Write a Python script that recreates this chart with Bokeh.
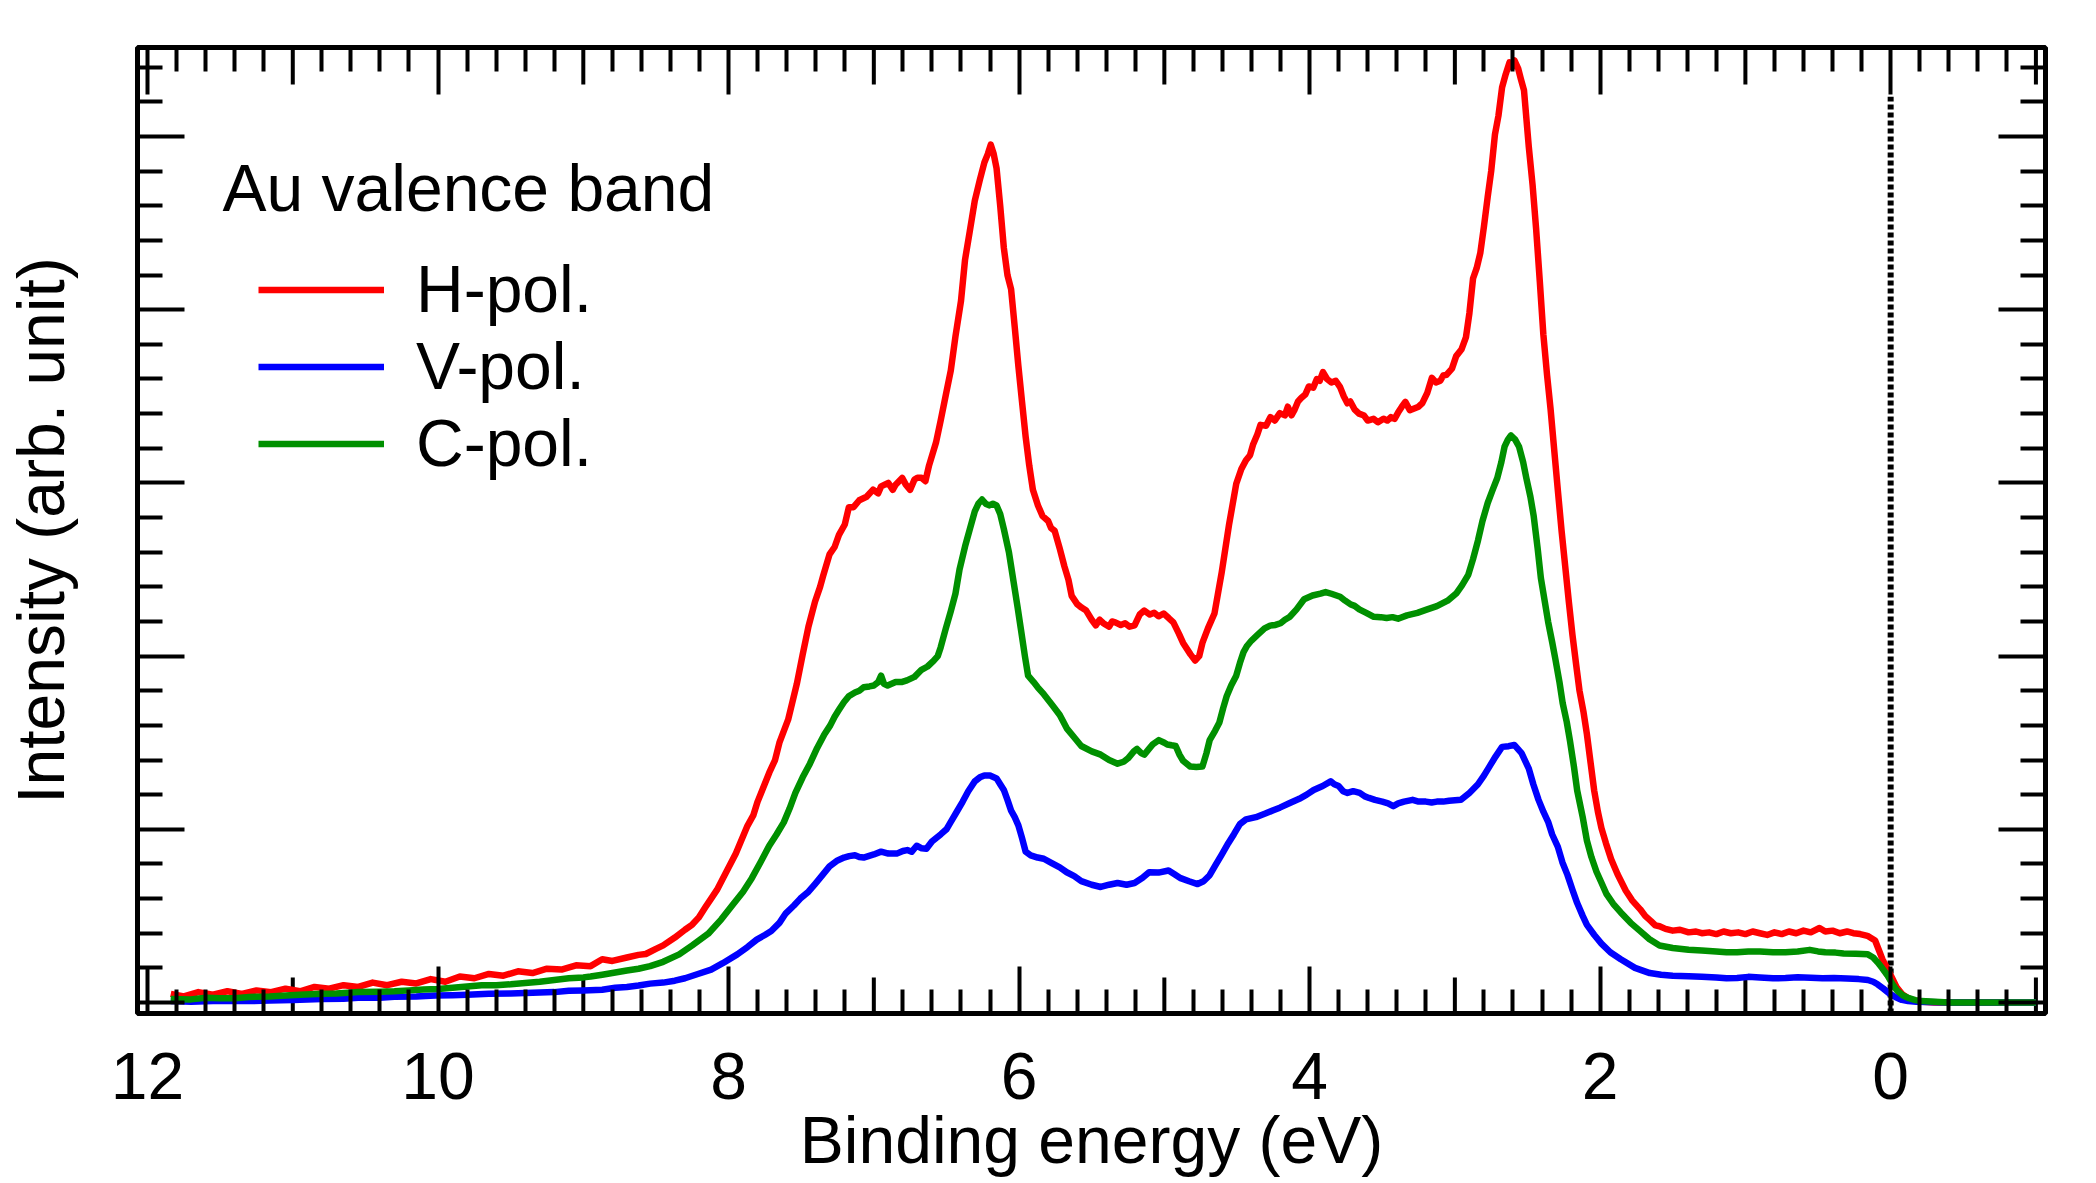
from bokeh.plotting import figure
from bokeh.models import Range1d, FixedTicker, LinearAxis, Legend, LegendItem, Label
from bokeh.embed import file_html
from bokeh.resources import INLINE

FONT = "Liberation Sans"

# ---------------- data ----------------
# H-polarisation: (binding energy eV, intensity arb.)
h_pol_points = [
    (11.84, 0.05), (11.75, 0.035), (11.65, 0.06), (11.55, 0.045), (11.45, 0.065), (11.35, 0.05),
    (11.25, 0.07), (11.15, 0.06), (11.05, 0.08), (10.95, 0.065), (10.85, 0.09), (10.75, 0.08),
    (10.65, 0.10), (10.55, 0.09), (10.45, 0.115), (10.35, 0.10), (10.25, 0.12), (10.15, 0.11),
    (10.05, 0.135), (9.95, 0.12), (9.85, 0.15), (9.75, 0.14), (9.65, 0.165), (9.55, 0.155),
    (9.45, 0.18), (9.35, 0.17), (9.25, 0.195), (9.15, 0.19), (9.05, 0.215), (8.95, 0.21),
    (8.87, 0.25), (8.8, 0.24), (8.7, 0.26), (8.62, 0.275), (8.57, 0.28), (8.5, 0.31),
    (8.45, 0.33), (8.37, 0.375), (8.3, 0.42), (8.25, 0.45), (8.206, 0.49), (8.16, 0.55),
    (8.12, 0.6), (8.08, 0.65), (8.04, 0.714), (7.95, 0.86), (7.87, 1.02), (7.83, 1.08),
    (7.8, 1.16), (7.72, 1.327), (7.68, 1.40), (7.65, 1.50), (7.59, 1.633), (7.53, 1.84),
    (7.49, 2.008), (7.45, 2.17), (7.405, 2.314), (7.37, 2.40), (7.35, 2.46), (7.305, 2.587),
    (7.27, 2.63), (7.24, 2.70), (7.2, 2.76), (7.172, 2.859), (7.14, 2.86), (7.1, 2.90),
    (7.05, 2.92), (7.005, 2.961), (6.97, 2.94), (6.95, 2.98), (6.9, 3.0), (6.87, 2.96),
    (6.85, 2.99), (6.805, 3.029), (6.78, 2.99), (6.75, 2.96), (6.72, 3.02), (6.7, 3.03),
    (6.672, 3.03), (6.645, 3.01), (6.62, 3.10), (6.572, 3.233), (6.54, 3.36), (6.505, 3.506),
    (6.47, 3.65), (6.438, 3.846), (6.4, 4.05), (6.372, 4.289), (6.34, 4.45), (6.305, 4.629),
    (6.27, 4.75), (6.239, 4.85), (6.215, 4.90), (6.195, 4.953), (6.175, 4.90), (6.155, 4.816),
    (6.13, 4.6), (6.105, 4.357), (6.08, 4.20), (6.055, 4.118), (6.03, 3.9), (6.005, 3.676),
    (5.98, 3.47), (5.955, 3.267), (5.93, 3.1), (5.905, 2.961), (5.87, 2.87), (5.838, 2.808),
    (5.8, 2.78), (5.78, 2.74), (5.755, 2.723), (5.72, 2.62), (5.688, 2.518), (5.66, 2.44),
    (5.638, 2.348), (5.6, 2.3), (5.57, 2.28), (5.538, 2.263), (5.5, 2.21), (5.472, 2.178),
    (5.445, 2.21), (5.42, 2.19), (5.38, 2.17), (5.36, 2.20), (5.338, 2.195), (5.3, 2.18),
    (5.27, 2.19), (5.24, 2.17), (5.205, 2.178), (5.17, 2.24), (5.138, 2.263), (5.1, 2.24),
    (5.07, 2.25), (5.04, 2.23), (5.005, 2.246), (4.97, 2.22), (4.938, 2.195), (4.9, 2.13),
    (4.871, 2.076), (4.82, 2.01), (4.788, 1.975), (4.76, 2.0), (4.738, 2.076), (4.7, 2.16),
    (4.655, 2.246), (4.605, 2.484), (4.555, 2.757), (4.505, 2.995), (4.47, 3.08), (4.438, 3.131),
    (4.41, 3.16), (4.39, 3.22), (4.36, 3.28), (4.338, 3.335), (4.3, 3.33), (4.27, 3.38),
    (4.24, 3.36), (4.205, 3.403), (4.17, 3.39), (4.15, 3.44), (4.125, 3.39), (4.105, 3.42),
    (4.08, 3.47), (4.058, 3.49), (4.03, 3.51), (4.005, 3.557), (3.975, 3.55), (3.95, 3.60),
    (3.93, 3.59), (3.908, 3.64), (3.88, 3.60), (3.85, 3.58), (3.82, 3.59), (3.79, 3.553),
    (3.765, 3.50), (3.74, 3.46), (3.72, 3.47), (3.691, 3.425), (3.66, 3.40), (3.625, 3.389),
    (3.6, 3.36), (3.56, 3.37), (3.53, 3.35), (3.491, 3.371), (3.465, 3.36), (3.44, 3.38),
    (3.415, 3.37), (3.391, 3.406), (3.365, 3.44), (3.341, 3.468), (3.31, 3.42), (3.28, 3.43),
    (3.25, 3.44), (3.224, 3.461), (3.19, 3.52), (3.158, 3.607), (3.13, 3.58), (3.1, 3.59),
    (3.08, 3.62), (3.058, 3.624), (3.02, 3.66), (2.991, 3.732), (2.955, 3.77), (2.924, 3.84),
    (2.9, 3.98), (2.875, 4.18), (2.85, 4.24), (2.825, 4.327), (2.8, 4.48), (2.774, 4.652),
    (2.75, 4.80), (2.724, 5.012), (2.7, 5.12), (2.675, 5.284), (2.65, 5.36), (2.624, 5.428),
    (2.605, 5.40), (2.59, 5.44), (2.564, 5.392), (2.545, 5.33), (2.524, 5.266), (2.491, 4.94),
    (2.465, 4.72), (2.441, 4.471), (2.415, 4.16), (2.391, 3.858), (2.365, 3.62), (2.341, 3.425),
    (2.315, 3.18), (2.291, 2.956), (2.265, 2.72), (2.241, 2.523), (2.215, 2.31), (2.191, 2.126),
    (2.165, 1.95), (2.142, 1.8), (2.115, 1.68), (2.091, 1.549), (2.065, 1.38), (2.041, 1.224),
    (2.015, 1.10), (1.991, 1.007), (1.96, 0.92), (1.924, 0.827), (1.88, 0.74), (1.824, 0.647),
    (1.78, 0.59), (1.724, 0.538), (1.69, 0.50), (1.65, 0.47), (1.62, 0.445), (1.591, 0.44),
    (1.55, 0.425), (1.5, 0.415), (1.45, 0.42), (1.391, 0.405), (1.34, 0.41), (1.3, 0.40),
    (1.25, 0.405), (1.2, 0.395), (1.15, 0.41), (1.1, 0.40), (1.05, 0.405), (1.0, 0.395),
    (0.95, 0.41), (0.9, 0.40), (0.85, 0.39), (0.8, 0.405), (0.75, 0.395), (0.7, 0.41),
    (0.65, 0.40), (0.6, 0.415), (0.55, 0.405), (0.49, 0.43), (0.45, 0.41), (0.4, 0.415),
    (0.35, 0.40), (0.3, 0.41), (0.257, 0.40), (0.21, 0.395), (0.16, 0.385), (0.107, 0.358),
    (0.08, 0.30), (0.057, 0.25), (0.02, 0.19), (-0.01, 0.141), (-0.04, 0.09), (-0.077, 0.05),
    (-0.12, 0.025), (-0.16, 0.012), (-0.22, 0.004), (-0.3, 0.0), (-0.5, 0.0), (-0.7, 0.0),
    (-1.0, 0.0),
]

# V-polarisation
v_pol_points = [
    (11.84, 0.008), (11.7, 0.004), (11.5, 0.01), (11.3, 0.008), (11.16, 0.012), (11.0, 0.015),
    (10.8, 0.02), (10.65, 0.022), (10.55, 0.027), (10.4, 0.028), (10.3, 0.033), (10.15, 0.035),
    (10.02, 0.04), (9.9, 0.042), (9.8, 0.045), (9.65, 0.05), (9.5, 0.052), (9.4, 0.055),
    (9.2, 0.06), (9.1, 0.068), (9.0, 0.07), (8.87, 0.074), (8.78, 0.085), (8.7, 0.09),
    (8.62, 0.098), (8.54, 0.109), (8.45, 0.115), (8.37, 0.126), (8.3, 0.14), (8.206, 0.166),
    (8.12, 0.19), (8.04, 0.227), (7.94, 0.278), (7.87, 0.32), (7.806, 0.363), (7.75, 0.39),
    (7.706, 0.413), (7.65, 0.46), (7.606, 0.515), (7.55, 0.56), (7.506, 0.6), (7.45, 0.64),
    (7.405, 0.684), (7.35, 0.74), (7.305, 0.786), (7.25, 0.82), (7.205, 0.837), (7.17, 0.845),
    (7.13, 0.85), (7.1, 0.84), (7.07, 0.837), (7.0, 0.855), (6.95, 0.871), (6.9, 0.86),
    (6.838, 0.861), (6.8, 0.875), (6.77, 0.88), (6.74, 0.87), (6.705, 0.905), (6.67, 0.89),
    (6.638, 0.888), (6.6, 0.93), (6.538, 0.972), (6.5, 1.0), (6.472, 1.04), (6.43, 1.10),
    (6.389, 1.159), (6.35, 1.22), (6.305, 1.277), (6.27, 1.30), (6.239, 1.311), (6.2, 1.31),
    (6.155, 1.294), (6.13, 1.26), (6.105, 1.227), (6.08, 1.17), (6.055, 1.108), (6.03, 1.07),
    (6.005, 1.023), (5.98, 0.95), (5.955, 0.871), (5.92, 0.85), (5.872, 0.837), (5.83, 0.83),
    (5.772, 0.803), (5.72, 0.78), (5.672, 0.752), (5.62, 0.73), (5.572, 0.701), (5.5, 0.68),
    (5.438, 0.667), (5.38, 0.68), (5.322, 0.69), (5.26, 0.68), (5.205, 0.69), (5.15, 0.72),
    (5.105, 0.752), (5.04, 0.75), (4.971, 0.762), (4.93, 0.74), (4.888, 0.718), (4.83, 0.70),
    (4.771, 0.684), (4.73, 0.70), (4.688, 0.735), (4.65, 0.79), (4.605, 0.854), (4.56, 0.92),
    (4.521, 0.972), (4.48, 1.03), (4.438, 1.057), (4.37, 1.07), (4.305, 1.091), (4.25, 1.11),
    (4.205, 1.125), (4.14, 1.15), (4.071, 1.176), (4.02, 1.20), (3.972, 1.227), (3.91, 1.25),
    (3.855, 1.277), (3.83, 1.26), (3.8, 1.25), (3.77, 1.22), (3.739, 1.21), (3.7, 1.22),
    (3.655, 1.21), (3.62, 1.19), (3.591, 1.181), (3.55, 1.17), (3.5, 1.16), (3.46, 1.15),
    (3.424, 1.134), (3.39, 1.15), (3.35, 1.16), (3.291, 1.17), (3.25, 1.16), (3.2, 1.16),
    (3.16, 1.155), (3.124, 1.16), (3.08, 1.16), (3.04, 1.165), (2.958, 1.17), (2.9, 1.21),
    (2.841, 1.26), (2.8, 1.31), (2.758, 1.368), (2.72, 1.42), (2.675, 1.476), (2.63, 1.48),
    (2.591, 1.487), (2.541, 1.44), (2.491, 1.35), (2.46, 1.26), (2.424, 1.17), (2.39, 1.10),
    (2.358, 1.043), (2.33, 0.97), (2.291, 0.899), (2.26, 0.81), (2.225, 0.737), (2.19, 0.65),
    (2.158, 0.574), (2.12, 0.50), (2.091, 0.448), (2.04, 0.39), (1.991, 0.34), (1.93, 0.29),
    (1.858, 0.25), (1.76, 0.2), (1.658, 0.17), (1.58, 0.16), (1.5, 0.155), (1.391, 0.152),
    (1.3, 0.148), (1.2, 0.145), (1.13, 0.14), (1.057, 0.141), (0.98, 0.148), (0.9, 0.145),
    (0.81, 0.14), (0.724, 0.141), (0.64, 0.146), (0.55, 0.143), (0.47, 0.14), (0.39, 0.141),
    (0.3, 0.138), (0.22, 0.135), (0.157, 0.13), (0.12, 0.12), (0.09, 0.105), (0.05, 0.08),
    (0.007, 0.051), (-0.035, 0.03), (-0.077, 0.015), (-0.12, 0.008), (-0.177, 0.004),
    (-0.4, 0.0), (-0.7, 0.0), (-1.0, 0.0),
]

# C-polarisation
c_pol_points = [
    (11.84, 0.02), (11.7, 0.018), (11.6, 0.028), (11.5, 0.024), (11.4, 0.025), (11.3, 0.032),
    (11.16, 0.035), (11.05, 0.04), (10.95, 0.045), (10.8, 0.05), (10.7, 0.052), (10.55, 0.06),
    (10.4, 0.062), (10.3, 0.065), (10.2, 0.07), (10.1, 0.075), (10.0, 0.078), (9.9, 0.085),
    (9.8, 0.092), (9.7, 0.1), (9.6, 0.1), (9.5, 0.105), (9.4, 0.112), (9.3, 0.12),
    (9.2, 0.13), (9.1, 0.14), (9.0, 0.145), (8.95, 0.15), (8.87, 0.16), (8.8, 0.17),
    (8.7, 0.185), (8.62, 0.195), (8.54, 0.21), (8.45, 0.235), (8.34, 0.278), (8.25, 0.33),
    (8.14, 0.397), (8.05, 0.48), (7.97, 0.566), (7.9, 0.64), (7.84, 0.718), (7.78, 0.81),
    (7.72, 0.905), (7.67, 0.97), (7.62, 1.04), (7.58, 1.12), (7.54, 1.21), (7.49, 1.30),
    (7.44, 1.379), (7.39, 1.47), (7.34, 1.549), (7.3, 1.60), (7.27, 1.65), (7.24, 1.69),
    (7.205, 1.735), (7.17, 1.77), (7.13, 1.79), (7.1, 1.80), (7.07, 1.82), (7.03, 1.825),
    (7.0, 1.83), (6.97, 1.85), (6.95, 1.887), (6.93, 1.84), (6.905, 1.83), (6.85, 1.85),
    (6.81, 1.85), (6.772, 1.86), (6.72, 1.88), (6.672, 1.921), (6.63, 1.94), (6.589, 1.972),
    (6.56, 2.0), (6.54, 2.05), (6.505, 2.158), (6.47, 2.26), (6.438, 2.361), (6.41, 2.50),
    (6.372, 2.633), (6.34, 2.73), (6.305, 2.836), (6.28, 2.88), (6.255, 2.904), (6.23, 2.88),
    (6.205, 2.87), (6.18, 2.88), (6.155, 2.87), (6.13, 2.82), (6.105, 2.734), (6.07, 2.6),
    (6.038, 2.43), (6.01, 2.28), (5.988, 2.158), (5.96, 2.0), (5.938, 1.887), (5.9, 1.85),
    (5.872, 1.82), (5.83, 1.78), (5.772, 1.718), (5.72, 1.66), (5.672, 1.583), (5.62, 1.53),
    (5.572, 1.481), (5.5, 1.45), (5.438, 1.431), (5.38, 1.40), (5.322, 1.379), (5.28, 1.39),
    (5.25, 1.41), (5.21, 1.45), (5.188, 1.464), (5.16, 1.44), (5.138, 1.431), (5.11, 1.46),
    (5.08, 1.49), (5.038, 1.515), (5.0, 1.50), (4.98, 1.49), (4.95, 1.485), (4.922, 1.481),
    (4.895, 1.43), (4.871, 1.396), (4.821, 1.362), (4.78, 1.36), (4.738, 1.362), (4.71, 1.44),
    (4.688, 1.515), (4.65, 1.57), (4.621, 1.617), (4.595, 1.70), (4.571, 1.768), (4.54, 1.83),
    (4.505, 1.887), (4.48, 1.96), (4.455, 2.023), (4.43, 2.06), (4.4, 2.09), (4.355, 2.125),
    (4.31, 2.16), (4.272, 2.176), (4.235, 2.18), (4.2, 2.19), (4.17, 2.21), (4.138, 2.226),
    (4.09, 2.27), (4.038, 2.328), (3.98, 2.35), (3.925, 2.361), (3.89, 2.37), (3.85, 2.36),
    (3.79, 2.343), (3.755, 2.32), (3.72, 2.30), (3.69, 2.29), (3.658, 2.27), (3.61, 2.25),
    (3.558, 2.227), (3.51, 2.225), (3.47, 2.22), (3.43, 2.225), (3.391, 2.216), (3.33, 2.235),
    (3.258, 2.25), (3.19, 2.27), (3.124, 2.289), (3.05, 2.32), (2.991, 2.361), (2.95, 2.41),
    (2.908, 2.469), (2.875, 2.56), (2.841, 2.667), (2.81, 2.78), (2.774, 2.884), (2.74, 2.96),
    (2.708, 3.028), (2.68, 3.12), (2.658, 3.209), (2.635, 3.25), (2.614, 3.274), (2.585, 3.25),
    (2.558, 3.209), (2.53, 3.12), (2.508, 3.028), (2.48, 2.92), (2.458, 2.812), (2.43, 2.62),
    (2.408, 2.451), (2.38, 2.31), (2.358, 2.198), (2.33, 2.08), (2.308, 1.982), (2.28, 1.85),
    (2.258, 1.729), (2.23, 1.62), (2.208, 1.513), (2.18, 1.36), (2.158, 1.224), (2.12, 1.07),
    (2.091, 0.935), (2.06, 0.84), (2.025, 0.755), (1.99, 0.69), (1.958, 0.629), (1.91, 0.57),
    (1.858, 0.52), (1.79, 0.46), (1.724, 0.412), (1.66, 0.365), (1.591, 0.329), (1.5, 0.315),
    (1.391, 0.304), (1.3, 0.30), (1.2, 0.295), (1.13, 0.29), (1.057, 0.29), (0.98, 0.295),
    (0.9, 0.295), (0.81, 0.29), (0.724, 0.29), (0.64, 0.295), (0.557, 0.304), (0.5, 0.295),
    (0.45, 0.29), (0.38, 0.288), (0.324, 0.283), (0.24, 0.282), (0.157, 0.278), (0.12, 0.26),
    (0.09, 0.232), (0.06, 0.2), (0.024, 0.159), (-0.01, 0.11), (-0.043, 0.069), (-0.085, 0.04),
    (-0.126, 0.025), (-0.17, 0.014), (-0.21, 0.008), (-0.4, 0.0), (-0.7, 0.0), (-1.0, 0.0),
]

energy_h = [e for e, _ in h_pol_points]
intensity_h = [i for _, i in h_pol_points]
energy_v = [e for e, _ in v_pol_points]
intensity_v = [i for _, i in v_pol_points]
energy_c = [e for e, _ in c_pol_points]
intensity_c = [i for _, i in c_pol_points]

series_labels = ["H-pol.", "V-pol.", "C-pol."]
series_colors = ["#ff0000", "#0000ff", "#009000"]

x_major_ticks = [12, 10, 8, 6, 4, 2, 0]
x_medium_ticks = [11, 9, 7, 5, 3, 1, -1]
x_minor_ticks = [round(-1 + 0.2 * i, 1) for i in range(66) if (i % 5) != 0]
y_major_ticks = [0, 1, 2, 3, 4, 5]
y_minor_ticks = [round(0.2 * i, 1) for i in range(28) if (i % 5) != 0]

fermi_level = 0.0
fermi_line_top = 5.23

# ---------------- figure ----------------
X_START, X_END = 12.069, -1.066
Y_START, Y_END = -0.0635, 5.514
W, H = 2096, 1183
FRAME_H = 966.0

p = figure(width=W, height=H,
           x_range=Range1d(X_START, X_END), y_range=Range1d(Y_START, Y_END),
           output_backend="svg", toolbar_location=None,
           x_axis_location=None, y_axis_location=None,
           min_border_left=135, min_border_right=51, min_border_top=47, min_border_bottom=170)
p.xgrid.visible = False
p.ygrid.visible = False
p.background_fill_color = "white"
p.border_fill_color = "white"
p.outline_line_color = "black"
p.outline_line_width = 5
p.outline_line_alpha = 1.0


def style_axis(ax, major_len, minor_len):
    ax.axis_line_color = None
    ax.major_tick_in = major_len
    ax.major_tick_out = 0
    ax.minor_tick_in = minor_len
    ax.minor_tick_out = 0
    ax.major_tick_line_width = 4
    ax.minor_tick_line_width = 4
    ax.major_tick_line_color = "black"
    ax.minor_tick_line_color = "black"


def blank_labels(ax, ticks):
    ax.major_label_overrides = {t: "" for t in ticks}
    ax.major_label_text_font_size = "1px"
    ax.major_label_standoff = 0


# bottom axis with labels
xb = LinearAxis(ticker=FixedTicker(ticks=x_major_ticks, minor_ticks=x_minor_ticks))
style_axis(xb, 47, 24)
xb.major_label_text_font = FONT
xb.major_label_text_font_size = "66px"
xb.major_label_text_color = "black"
xb.major_label_standoff = 39
xb.axis_label = "Binding energy (eV)"
xb.axis_label_text_font = FONT
xb.axis_label_text_font_size = "66px"
xb.axis_label_text_font_style = "normal"
xb.axis_label_text_color = "black"
xb.axis_label_standoff = 1
p.add_layout(xb, "below")

# top axis, ticks only
xt = LinearAxis(ticker=FixedTicker(ticks=x_major_ticks, minor_ticks=x_minor_ticks))
style_axis(xt, 47, 24)
blank_labels(xt, x_major_ticks)
p.add_layout(xt, "above")

# left axis with title
yl = LinearAxis(ticker=FixedTicker(ticks=y_major_ticks, minor_ticks=y_minor_ticks))
style_axis(yl, 47, 25)
blank_labels(yl, y_major_ticks)
yl.axis_label = "Intensity (arb. unit)"
yl.axis_label_text_font = FONT
yl.axis_label_text_font_size = "66px"
yl.axis_label_text_font_style = "normal"
yl.axis_label_text_color = "black"
yl.axis_label_standoff = 60
p.add_layout(yl, "left")

# right axis, ticks only
yr = LinearAxis(ticker=FixedTicker(ticks=y_major_ticks, minor_ticks=y_minor_ticks))
style_axis(yr, 47, 25)
blank_labels(yr, y_major_ticks)
p.add_layout(yr, "right")

# medium (odd-integer) ticks on the top and bottom edges
px_per_unit = FRAME_H / (Y_END - Y_START)
n_med = len(x_medium_ticks)
p.segment(x0=x_medium_ticks, y0=[Y_START] * n_med, x1=x_medium_ticks,
          y1=[Y_START + 36 / px_per_unit] * n_med, line_color="black", line_width=4)
p.segment(x0=x_medium_ticks, y0=[Y_END] * n_med, x1=x_medium_ticks,
          y1=[Y_END - 37 / px_per_unit] * n_med, line_color="black", line_width=4)

# Fermi level dotted line
p.segment(x0=[fermi_level], y0=[Y_START], x1=[fermi_level], y1=[fermi_line_top],
          line_color="black", line_width=6, line_dash="5 3")

# spectra
r_h = p.line(energy_h, intensity_h, line_color=series_colors[0], line_width=6.5, line_join="round")
r_v = p.line(energy_v, intensity_v, line_color=series_colors[1], line_width=6.5, line_join="round")
r_c = p.line(energy_c, intensity_c, line_color=series_colors[2], line_width=6.5, line_join="round")

legend = Legend(items=[LegendItem(label=series_labels[0], renderers=[r_h]),
                       LegendItem(label=series_labels[1], renderers=[r_v]),
                       LegendItem(label=series_labels[2], renderers=[r_c])],
                location=(121, 531.5), orientation="vertical",
                glyph_width=126, glyph_height=77, label_height=77, spacing=0,
                padding=0, margin=0, label_standoff=32,
                label_text_font=FONT, label_text_font_size="66px", label_text_color="black",
                border_line_color=None, background_fill_alpha=0)
p.add_layout(legend)

title = Label(x=85, y=826, x_units="screen", y_units="screen", text="Au valence band",
              text_font=FONT, text_font_size="66px", text_color="black",
              text_baseline="alphabetic", text_align="left")
p.add_layout(title)

open("out.html", "w").write(file_html(p, INLINE))
